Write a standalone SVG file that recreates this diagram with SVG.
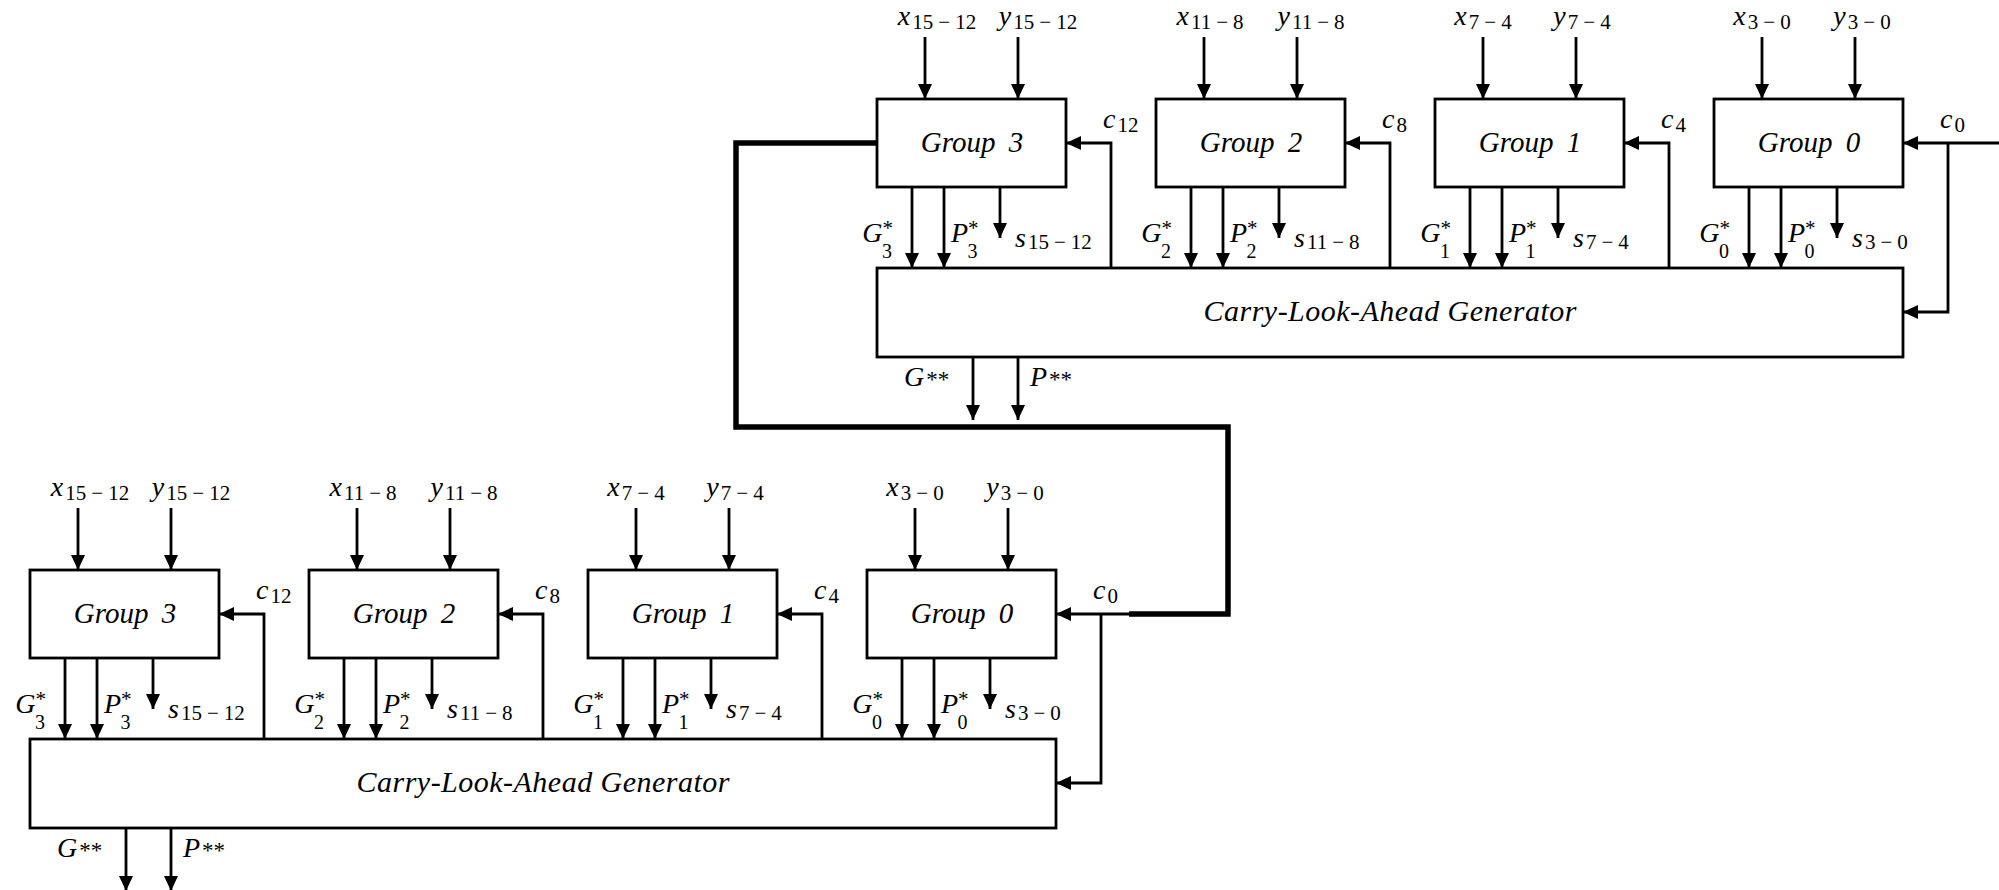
<svg xmlns="http://www.w3.org/2000/svg" width="1999" height="890" viewBox="0 0 1999 890">
<style>
.box{fill:#fff;stroke:#000;stroke-width:2.8}
.a{fill:none;stroke:#000;stroke-width:2.8;marker-end:url(#ah)}
.thick{fill:none;stroke:#000;stroke-width:5.5;stroke-linejoin:miter}
text{font-family:"Liberation Serif","Times New Roman",serif;fill:#000}
.m{font-size:28px;font-style:italic}
.t{font-size:29px;font-style:italic}
.cla{font-size:30px;font-style:italic}
.sub{font-size:21px;font-style:normal}
.sup{font-size:23px;font-style:normal}
.st{font-size:21px;font-style:normal}
.sb{font-size:20px;font-style:normal}
</style>
<defs>
<marker id="ah" markerUnits="userSpaceOnUse" markerWidth="16" markerHeight="14" refX="15" refY="7" orient="auto"><path d="M0,0 L15,7 L0,14 z" fill="#000"/></marker>
</defs>
<rect width="1999" height="890" fill="#fff"/>

<!-- ================= TOP STAGE ================= -->
<g id="top" transform="translate(877,0)">
 <g id="top-connectors">
  <line class="a" x1="48" y1="37" x2="48" y2="99"/><line class="a" x1="141" y1="37" x2="141" y2="99"/>
  <line class="a" x1="327" y1="37" x2="327" y2="99"/><line class="a" x1="420" y1="37" x2="420" y2="99"/>
  <line class="a" x1="606" y1="37" x2="606" y2="99"/><line class="a" x1="699" y1="37" x2="699" y2="99"/>
  <line class="a" x1="885" y1="37" x2="885" y2="99"/><line class="a" x1="978" y1="37" x2="978" y2="99"/>
  <line class="a" x1="35" y1="187" x2="35" y2="268"/><line class="a" x1="67" y1="187" x2="67" y2="268"/><line class="a" x1="123" y1="187" x2="123" y2="238"/>
  <line class="a" x1="314" y1="187" x2="314" y2="268"/><line class="a" x1="346" y1="187" x2="346" y2="268"/><line class="a" x1="402" y1="187" x2="402" y2="238"/>
  <line class="a" x1="593" y1="187" x2="593" y2="268"/><line class="a" x1="625" y1="187" x2="625" y2="268"/><line class="a" x1="681" y1="187" x2="681" y2="238"/>
  <line class="a" x1="872" y1="187" x2="872" y2="268"/><line class="a" x1="904" y1="187" x2="904" y2="268"/><line class="a" x1="960" y1="187" x2="960" y2="238"/>
  <polyline class="a" points="234,268 234,143 189,143"/>
  <polyline class="a" points="513,268 513,143 468,143"/>
  <polyline class="a" points="792,268 792,143 747,143"/>
  <line class="a" x1="1122" y1="143" x2="1026" y2="143"/>
  <polyline class="a" points="1071,143 1071,312 1026,312"/>
  <line class="a" x1="96" y1="357" x2="96" y2="420"/><line class="a" x1="141" y1="357" x2="141" y2="420"/>
 </g>
 <g id="top-labels">
  <text class="m" x="60" y="25" text-anchor="middle">x<tspan class="sub" dx="2" dy="4">15</tspan><tspan class="sub" dx="5">−</tspan><tspan class="sub" dx="5">12</tspan></text>
  <text class="m" x="161" y="25" text-anchor="middle">y<tspan class="sub" dx="2" dy="4">15</tspan><tspan class="sub" dx="5">−</tspan><tspan class="sub" dx="5">12</tspan></text>
  <text class="m" x="333" y="25" text-anchor="middle">x<tspan class="sub" dx="2" dy="4">11</tspan><tspan class="sub" dx="5">−</tspan><tspan class="sub" dx="5">8</tspan></text>
  <text class="m" x="434" y="25" text-anchor="middle">y<tspan class="sub" dx="2" dy="4">11</tspan><tspan class="sub" dx="5">−</tspan><tspan class="sub" dx="5">8</tspan></text>
  <text class="m" x="606" y="25" text-anchor="middle">x<tspan class="sub" dx="2" dy="4">7</tspan><tspan class="sub" dx="5">−</tspan><tspan class="sub" dx="5">4</tspan></text>
  <text class="m" x="705" y="25" text-anchor="middle">y<tspan class="sub" dx="2" dy="4">7</tspan><tspan class="sub" dx="5">−</tspan><tspan class="sub" dx="5">4</tspan></text>
  <text class="m" x="885" y="25" text-anchor="middle">x<tspan class="sub" dx="2" dy="4">3</tspan><tspan class="sub" dx="5">−</tspan><tspan class="sub" dx="5">0</tspan></text>
  <text class="m" x="985" y="25" text-anchor="middle">y<tspan class="sub" dx="2" dy="4">3</tspan><tspan class="sub" dx="5">−</tspan><tspan class="sub" dx="5">0</tspan></text>
  <text class="m" x="226" y="128">c<tspan class="sub" dx="2" dy="4">12</tspan></text>
  <text class="m" x="505" y="128">c<tspan class="sub" dx="2" dy="4">8</tspan></text>
  <text class="m" x="784" y="128">c<tspan class="sub" dx="2" dy="4">4</tspan></text>
  <text class="m" x="1063" y="128">c<tspan class="sub" dx="2" dy="4">0</tspan></text>
  <text class="m" x="16" y="242" text-anchor="end">G<tspan class="st" dy="-7">*</tspan><tspan class="sb" dx="-11" dy="23">3</tspan></text>
  <text class="m" x="74" y="242">P<tspan class="st" dy="-7">*</tspan><tspan class="sb" dx="-11" dy="23">3</tspan></text>
  <text class="m" x="138" y="247">s<tspan class="sub" dx="2" dy="2">15</tspan><tspan class="sub" dx="5">−</tspan><tspan class="sub" dx="5">12</tspan></text>
  <text class="m" x="295" y="242" text-anchor="end">G<tspan class="st" dy="-7">*</tspan><tspan class="sb" dx="-11" dy="23">2</tspan></text>
  <text class="m" x="353" y="242">P<tspan class="st" dy="-7">*</tspan><tspan class="sb" dx="-11" dy="23">2</tspan></text>
  <text class="m" x="417" y="247">s<tspan class="sub" dx="2" dy="2">11</tspan><tspan class="sub" dx="5">−</tspan><tspan class="sub" dx="5">8</tspan></text>
  <text class="m" x="574" y="242" text-anchor="end">G<tspan class="st" dy="-7">*</tspan><tspan class="sb" dx="-11" dy="23">1</tspan></text>
  <text class="m" x="632" y="242">P<tspan class="st" dy="-7">*</tspan><tspan class="sb" dx="-11" dy="23">1</tspan></text>
  <text class="m" x="696" y="247">s<tspan class="sub" dx="2" dy="2">7</tspan><tspan class="sub" dx="5">−</tspan><tspan class="sub" dx="5">4</tspan></text>
  <text class="m" x="853" y="242" text-anchor="end">G<tspan class="st" dy="-7">*</tspan><tspan class="sb" dx="-11" dy="23">0</tspan></text>
  <text class="m" x="911" y="242">P<tspan class="st" dy="-7">*</tspan><tspan class="sb" dx="-11" dy="23">0</tspan></text>
  <text class="m" x="975" y="247">s<tspan class="sub" dx="2" dy="2">3</tspan><tspan class="sub" dx="5">−</tspan><tspan class="sub" dx="5">0</tspan></text>
  <text class="m" x="27" y="386">G<tspan class="sup" dx="2" dy="1">**</tspan></text>
  <text class="m" x="153" y="386">P<tspan class="sup" dx="2" dy="1">**</tspan></text>
 </g>
 <g id="top-group3"><rect class="box" x="0" y="99" width="189" height="88"/><text class="t" x="95" y="152" text-anchor="middle">Group<tspan dx="6"> 3</tspan></text></g>
 <g id="top-group2"><rect class="box" x="279" y="99" width="189" height="88"/><text class="t" x="374" y="152" text-anchor="middle">Group<tspan dx="6"> 2</tspan></text></g>
 <g id="top-group1"><rect class="box" x="558" y="99" width="189" height="88"/><text class="t" x="653" y="152" text-anchor="middle">Group<tspan dx="6"> 1</tspan></text></g>
 <g id="top-group0"><rect class="box" x="837" y="99" width="189" height="88"/><text class="t" x="932" y="152" text-anchor="middle">Group<tspan dx="6"> 0</tspan></text></g>
 <g id="top-cla"><rect class="box" x="0" y="268" width="1026" height="89"/><text class="cla" x="513" y="321" text-anchor="middle" textLength="373" lengthAdjust="spacing">Carry-Look-Ahead Generator</text></g>
</g>

<!-- ================= BOTTOM STAGE ================= -->
<g id="bottom" transform="translate(30,471)">
 <g id="bottom-connectors">
  <line class="a" x1="48" y1="37" x2="48" y2="99"/><line class="a" x1="141" y1="37" x2="141" y2="99"/>
  <line class="a" x1="327" y1="37" x2="327" y2="99"/><line class="a" x1="420" y1="37" x2="420" y2="99"/>
  <line class="a" x1="606" y1="37" x2="606" y2="99"/><line class="a" x1="699" y1="37" x2="699" y2="99"/>
  <line class="a" x1="885" y1="37" x2="885" y2="99"/><line class="a" x1="978" y1="37" x2="978" y2="99"/>
  <line class="a" x1="35" y1="187" x2="35" y2="268"/><line class="a" x1="67" y1="187" x2="67" y2="268"/><line class="a" x1="123" y1="187" x2="123" y2="238"/>
  <line class="a" x1="314" y1="187" x2="314" y2="268"/><line class="a" x1="346" y1="187" x2="346" y2="268"/><line class="a" x1="402" y1="187" x2="402" y2="238"/>
  <line class="a" x1="593" y1="187" x2="593" y2="268"/><line class="a" x1="625" y1="187" x2="625" y2="268"/><line class="a" x1="681" y1="187" x2="681" y2="238"/>
  <line class="a" x1="872" y1="187" x2="872" y2="268"/><line class="a" x1="904" y1="187" x2="904" y2="268"/><line class="a" x1="960" y1="187" x2="960" y2="238"/>
  <polyline class="a" points="234,268 234,143 189,143"/>
  <polyline class="a" points="513,268 513,143 468,143"/>
  <polyline class="a" points="792,268 792,143 747,143"/>
  <line class="a" x1="1099" y1="143" x2="1026" y2="143"/>
  <polyline class="a" points="1071,143 1071,312 1026,312"/>
  <line class="a" x1="96" y1="357" x2="96" y2="420"/><line class="a" x1="141" y1="357" x2="141" y2="420"/>
 </g>
 <g id="bottom-labels">
  <text class="m" x="60" y="25" text-anchor="middle">x<tspan class="sub" dx="2" dy="4">15</tspan><tspan class="sub" dx="5">−</tspan><tspan class="sub" dx="5">12</tspan></text>
  <text class="m" x="161" y="25" text-anchor="middle">y<tspan class="sub" dx="2" dy="4">15</tspan><tspan class="sub" dx="5">−</tspan><tspan class="sub" dx="5">12</tspan></text>
  <text class="m" x="333" y="25" text-anchor="middle">x<tspan class="sub" dx="2" dy="4">11</tspan><tspan class="sub" dx="5">−</tspan><tspan class="sub" dx="5">8</tspan></text>
  <text class="m" x="434" y="25" text-anchor="middle">y<tspan class="sub" dx="2" dy="4">11</tspan><tspan class="sub" dx="5">−</tspan><tspan class="sub" dx="5">8</tspan></text>
  <text class="m" x="606" y="25" text-anchor="middle">x<tspan class="sub" dx="2" dy="4">7</tspan><tspan class="sub" dx="5">−</tspan><tspan class="sub" dx="5">4</tspan></text>
  <text class="m" x="705" y="25" text-anchor="middle">y<tspan class="sub" dx="2" dy="4">7</tspan><tspan class="sub" dx="5">−</tspan><tspan class="sub" dx="5">4</tspan></text>
  <text class="m" x="885" y="25" text-anchor="middle">x<tspan class="sub" dx="2" dy="4">3</tspan><tspan class="sub" dx="5">−</tspan><tspan class="sub" dx="5">0</tspan></text>
  <text class="m" x="985" y="25" text-anchor="middle">y<tspan class="sub" dx="2" dy="4">3</tspan><tspan class="sub" dx="5">−</tspan><tspan class="sub" dx="5">0</tspan></text>
  <text class="m" x="226" y="128">c<tspan class="sub" dx="2" dy="4">12</tspan></text>
  <text class="m" x="505" y="128">c<tspan class="sub" dx="2" dy="4">8</tspan></text>
  <text class="m" x="784" y="128">c<tspan class="sub" dx="2" dy="4">4</tspan></text>
  <text class="m" x="1063" y="128">c<tspan class="sub" dx="2" dy="4">0</tspan></text>
  <text class="m" x="16" y="242" text-anchor="end">G<tspan class="st" dy="-7">*</tspan><tspan class="sb" dx="-11" dy="23">3</tspan></text>
  <text class="m" x="74" y="242">P<tspan class="st" dy="-7">*</tspan><tspan class="sb" dx="-11" dy="23">3</tspan></text>
  <text class="m" x="138" y="247">s<tspan class="sub" dx="2" dy="2">15</tspan><tspan class="sub" dx="5">−</tspan><tspan class="sub" dx="5">12</tspan></text>
  <text class="m" x="295" y="242" text-anchor="end">G<tspan class="st" dy="-7">*</tspan><tspan class="sb" dx="-11" dy="23">2</tspan></text>
  <text class="m" x="353" y="242">P<tspan class="st" dy="-7">*</tspan><tspan class="sb" dx="-11" dy="23">2</tspan></text>
  <text class="m" x="417" y="247">s<tspan class="sub" dx="2" dy="2">11</tspan><tspan class="sub" dx="5">−</tspan><tspan class="sub" dx="5">8</tspan></text>
  <text class="m" x="574" y="242" text-anchor="end">G<tspan class="st" dy="-7">*</tspan><tspan class="sb" dx="-11" dy="23">1</tspan></text>
  <text class="m" x="632" y="242">P<tspan class="st" dy="-7">*</tspan><tspan class="sb" dx="-11" dy="23">1</tspan></text>
  <text class="m" x="696" y="247">s<tspan class="sub" dx="2" dy="2">7</tspan><tspan class="sub" dx="5">−</tspan><tspan class="sub" dx="5">4</tspan></text>
  <text class="m" x="853" y="242" text-anchor="end">G<tspan class="st" dy="-7">*</tspan><tspan class="sb" dx="-11" dy="23">0</tspan></text>
  <text class="m" x="911" y="242">P<tspan class="st" dy="-7">*</tspan><tspan class="sb" dx="-11" dy="23">0</tspan></text>
  <text class="m" x="975" y="247">s<tspan class="sub" dx="2" dy="2">3</tspan><tspan class="sub" dx="5">−</tspan><tspan class="sub" dx="5">0</tspan></text>
  <text class="m" x="27" y="386">G<tspan class="sup" dx="2" dy="1">**</tspan></text>
  <text class="m" x="153" y="386">P<tspan class="sup" dx="2" dy="1">**</tspan></text>
 </g>
 <g id="bottom-group3"><rect class="box" x="0" y="99" width="189" height="88"/><text class="t" x="95" y="152" text-anchor="middle">Group<tspan dx="6"> 3</tspan></text></g>
 <g id="bottom-group2"><rect class="box" x="279" y="99" width="189" height="88"/><text class="t" x="374" y="152" text-anchor="middle">Group<tspan dx="6"> 2</tspan></text></g>
 <g id="bottom-group1"><rect class="box" x="558" y="99" width="189" height="88"/><text class="t" x="653" y="152" text-anchor="middle">Group<tspan dx="6"> 1</tspan></text></g>
 <g id="bottom-group0"><rect class="box" x="837" y="99" width="189" height="88"/><text class="t" x="932" y="152" text-anchor="middle">Group<tspan dx="6"> 0</tspan></text></g>
 <g id="bottom-cla"><rect class="box" x="0" y="268" width="1026" height="89"/><text class="cla" x="513" y="321" text-anchor="middle" textLength="373" lengthAdjust="spacing">Carry-Look-Ahead Generator</text></g>
</g>

<!-- stage-to-stage carry link -->
<g id="carry-link">
 <path class="thick" d="M877,143 H736 V427 H1228 V614 H1129"/>
</g>
</svg>
